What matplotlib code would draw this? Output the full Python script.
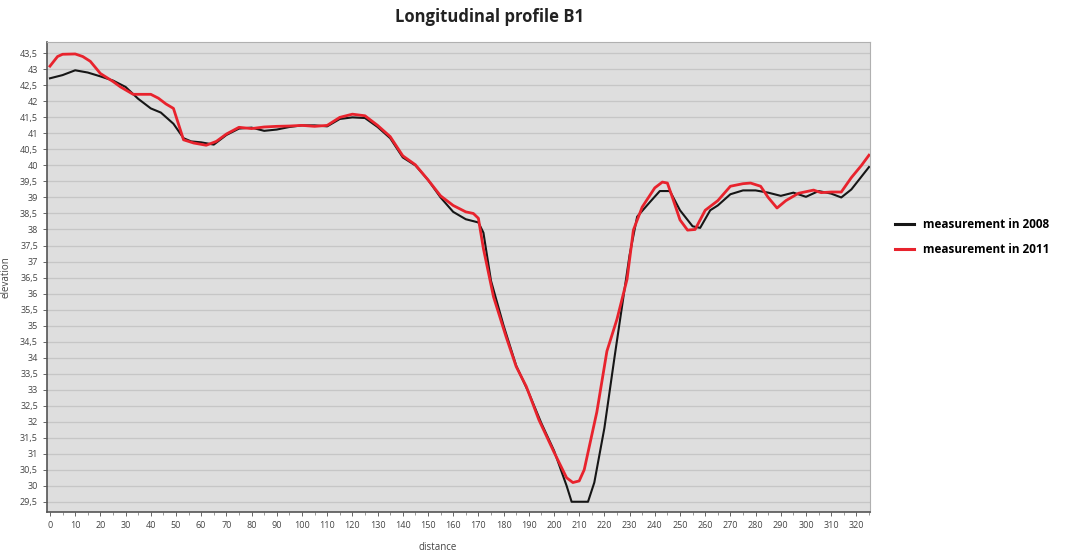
import matplotlib
matplotlib.use("Agg")
import matplotlib.pyplot as plt
from matplotlib import ticker

# elevation profile B1, survey of 2008
dist_2008 = [0, 5, 10, 15, 20, 25, 30, 35, 40, 44, 49, 53, 56, 60, 65, 70, 75, 80, 85, 90,
             95, 100, 105, 110, 115, 120, 125, 130, 135, 140, 145, 150, 155, 160, 165, 170,
             172, 175, 180, 185, 190, 195, 200, 205, 207, 213.5, 216, 220, 224, 227, 230,
             233, 238, 242, 246, 250, 255, 258, 262, 265, 270, 275, 280, 285, 290, 295,
             300, 305, 310, 314, 318, 322, 325]
elev_2008 = [42.72, 42.82, 42.97, 42.9, 42.78, 42.65, 42.45, 42.08, 41.78, 41.65, 41.3,
             40.85, 40.75, 40.72, 40.65, 40.95, 41.15, 41.18, 41.08, 41.12, 41.2, 41.25,
             41.25, 41.22, 41.45, 41.5, 41.48, 41.2, 40.85, 40.25, 40.0, 39.55, 39.0,
             38.55, 38.32, 38.22, 37.9, 36.4, 35.0, 33.75, 32.9, 31.95, 31.1, 30.0, 29.5,
             29.5, 30.1, 31.8, 34.0, 35.6, 37.2, 38.4, 38.85, 39.2, 39.2, 38.6, 38.1,
             38.05, 38.6, 38.75, 39.1, 39.22, 39.22, 39.15, 39.05, 39.15, 39.02, 39.2,
             39.12, 39.0, 39.25, 39.65, 39.95]

# elevation profile B1, survey of 2011
dist_2011 = [0, 3, 5, 10, 13, 16, 20, 25, 28, 33, 40, 43, 46, 49, 53, 57, 62, 66, 70, 75,
             80, 85, 90, 95, 100, 105, 110, 115, 120, 125, 130, 135, 140, 145, 150, 155,
             160, 165, 168, 170, 172, 176, 181, 185, 189, 194, 200, 205, 207.5, 210, 212,
             217, 221, 225, 229, 231.5, 235, 240, 243, 245, 247, 250, 253, 256, 260, 265,
             270, 275, 278, 282, 285, 288.5, 292, 297, 303, 306, 310, 314, 318, 322, 325]
elev_2011 = [43.1, 43.4, 43.47, 43.48, 43.4, 43.25, 42.87, 42.62, 42.45, 42.22, 42.22,
             42.1, 41.92, 41.78, 40.8, 40.7, 40.63, 40.75, 40.98, 41.19, 41.15, 41.2,
             41.22, 41.23, 41.25, 41.22, 41.25, 41.5, 41.6, 41.55, 41.25, 40.9, 40.3,
             40.02, 39.55, 39.05, 38.75, 38.55, 38.5, 38.35, 37.4, 35.9, 34.65, 33.72,
             33.1, 32.06, 31.05, 30.25, 30.1, 30.15, 30.5, 32.3, 34.2, 35.2, 36.45,
             37.98, 38.7, 39.3, 39.48, 39.45, 39.0, 38.3, 37.98, 38.0, 38.6, 38.9, 39.35,
             39.43, 39.45, 39.35, 39.0, 38.67, 38.9, 39.13, 39.23, 39.15, 39.17, 39.17,
             39.62, 40.0, 40.32]

labels = ["measurement in 2008", "measurement in 2011"]
title = "Longitudinal profile B1"

plt.rcParams["font.family"] = ["Open Sans", "DejaVu Sans"]

fig = plt.figure(figsize=(10.72, 5.54), dpi=100)
ax = fig.add_axes([0.0438, 0.0758, 0.768, 0.8482])
ax.set_facecolor("#dedede")

ax.plot(dist_2008, elev_2008, color="#161616", lw=1.5, label=labels[0], zorder=3,
        solid_joinstyle="round")
ax.plot(dist_2011, elev_2011, color="#e8232d", lw=2.0, label=labels[1], zorder=4,
        solid_joinstyle="round")

ax.set_xlim(-1.2, 325.5)
ax.set_ylim(29.18, 43.85)

ax.yaxis.set_major_locator(ticker.MultipleLocator(0.5))
ax.yaxis.set_major_formatter(ticker.FuncFormatter(lambda v, p: f"{v:g}".replace(".", ",")))
ax.xaxis.set_major_locator(ticker.MultipleLocator(10))
ax.xaxis.set_minor_locator(ticker.MultipleLocator(5))
ax.grid(axis="y", color="#c6c6c6", lw=0.9, zorder=0)
ax.set_axisbelow(True)

ax.tick_params(axis="both", which="major", labelsize=6.5, labelcolor="#444444",
               color="#666666", length=3, width=0.7)
ax.tick_params(axis="x", which="minor", length=2, color="#888888")
for side in ["left", "bottom"]:
    ax.spines[side].set_color("#555555")
    ax.spines[side].set_linewidth(1.2)
for side in ["top", "right"]:
    ax.spines[side].set_color("#b0b0b0")
    ax.spines[side].set_linewidth(0.8)

ax.set_xlabel("distance", fontsize=7, color="#444444")
ax.xaxis.set_label_coords(0.474, -0.063)
ax.set_ylabel("elevation", fontsize=7, color="#444444")
ax.yaxis.set_label_coords(-0.043, 0.5)

fig.suptitle(title, x=0.457, y=0.985, fontsize=12, fontweight="bold", color="#222222")

leg = fig.legend(loc="upper left", bbox_to_anchor=(0.825, 0.625), frameon=False,
                 handlelength=1.6, handletextpad=0.8, labelspacing=1.0,
                 prop={"size": 8.5, "weight": "bold"})
for line in leg.get_lines():
    line.set_linewidth(2.2)

fig.savefig("out.png", dpi=100)
